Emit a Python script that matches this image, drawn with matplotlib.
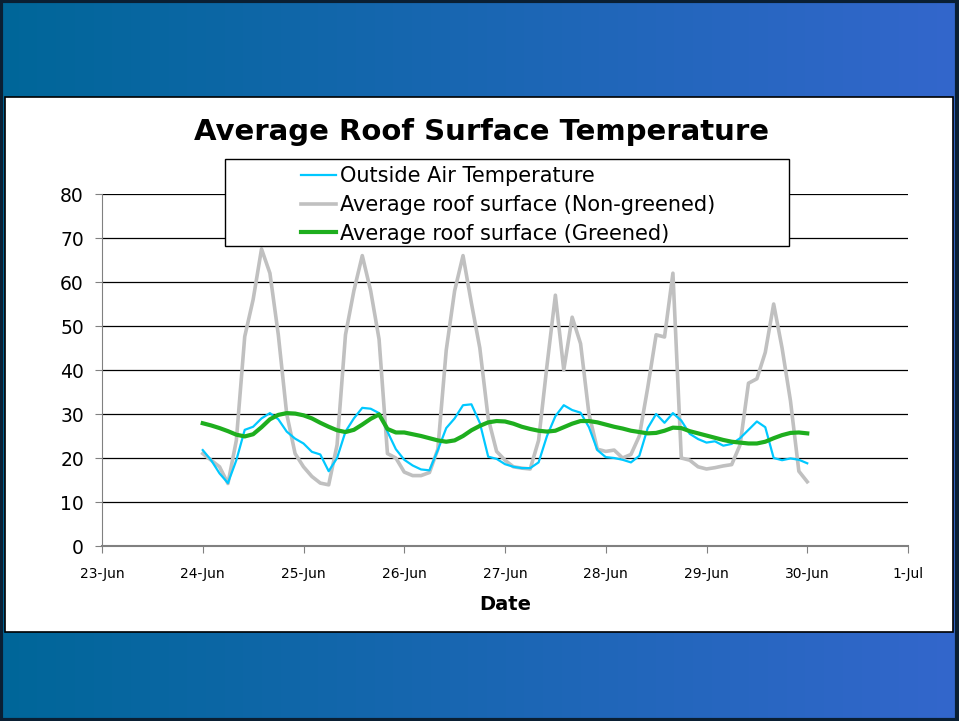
import numpy as np
import pandas as pd
import matplotlib
matplotlib.use("Agg")
import matplotlib.pyplot as plt
import matplotlib.dates as mdates
from matplotlib.patches import Rectangle
from matplotlib.lines import Line2D

# 2-hourly readings starting 24-Jun 00:00
start = "2008-06-24 00:00"
step = "2h"

air_temp = [
    21.8, 19.5, 16.5, 14.3, 19.5, 26.4, 27.1, 29.0, 30.2, 28.8, 26.0, 24.4,
    23.3, 21.4, 20.8, 17.0, 20.0, 26.0, 29.0, 31.4, 31.2, 30.2, 26.0, 22.0,
    19.6, 18.3, 17.4, 17.2, 21.8, 26.8, 29.0, 32.0, 32.2, 28.0, 20.3, 19.8,
    18.6, 18.0, 17.7, 17.7, 19.0, 25.0, 29.5, 32.0, 30.9, 30.3, 27.0, 21.8,
    20.2, 20.0, 19.6, 19.0, 20.5, 26.8, 30.0, 28.0, 30.2, 28.5, 25.5, 24.3,
    23.5, 23.8, 22.8, 23.2, 24.5, 26.4, 28.3, 27.0, 20.0, 19.5, 19.9, 19.6,
    18.8,
]

roof_non_greened = [
    21.0, 19.5, 18.0, 14.2, 24.0, 47.6, 56.0, 67.5, 62.0, 48.0, 30.0, 21.0,
    18.0, 15.8, 14.3, 13.9, 23.0, 48.0, 58.0, 66.0, 58.0, 47.0, 21.0, 20.0,
    16.8, 16.0, 16.0, 16.7, 22.0, 44.5, 58.0, 66.0, 55.2, 45.0, 29.0, 21.5,
    19.5, 18.0, 17.7, 17.5, 24.0, 41.0, 57.0, 40.0, 52.0, 46.0, 30.0, 22.0,
    21.5, 21.8, 20.0, 20.8, 25.0, 36.0, 48.0, 47.5, 62.0, 20.0, 19.5, 18.0,
    17.5, 17.8, 18.2, 18.5, 23.0, 37.0, 38.0, 44.0, 55.0, 45.0, 33.0, 17.0,
    14.6,
]

roof_greened = [
    27.9, 27.4, 26.8, 26.1, 25.3, 24.9, 25.4, 27.0, 28.8, 29.8, 30.2, 30.1,
    29.7, 29.0, 28.0, 27.1, 26.3, 25.9, 26.4, 27.6, 28.9, 29.9, 26.6, 25.8,
    25.8, 25.4, 25.0, 24.5, 24.0, 23.7, 24.0, 25.0, 26.3, 27.3, 28.1, 28.4,
    28.3, 27.8, 27.1, 26.6, 26.2, 26.0, 26.2, 27.0, 27.8, 28.4, 28.4, 28.1,
    27.6, 27.1, 26.7, 26.2, 25.9, 25.6, 25.7, 26.2, 26.9, 26.8, 26.1, 25.6,
    25.1, 24.6, 24.1, 23.7, 23.5, 23.3, 23.3, 23.7, 24.5, 25.2, 25.7, 25.8,
    25.6,
]

labels = ["Outside Air Temperature",
          "Average roof surface (Non-greened)",
          "Average roof surface (Greened)"]
colors = ["#00c8ff", "#c0c0c0", "#1eae1e"]

times = pd.date_range(start, periods=len(air_temp), freq=step)

fig = plt.figure(figsize=(9.59, 7.21), dpi=100)

# slide background gradient + white panel
bg = fig.add_axes([0, 0, 1, 1], zorder=0)
grad = np.linspace(0, 1, 256).reshape(1, -1)
cmap = matplotlib.colors.LinearSegmentedColormap.from_list("slide", ["#006699", "#3366cc"])
bg.imshow(grad, aspect="auto", cmap=cmap, extent=[0, 1, 0, 1])
bg.set_xlim(0, 1)
bg.set_ylim(0, 1)
bg.add_patch(Rectangle((0.001, 0.002), 0.997, 0.996, fill=False,
                       edgecolor="#0a1f33", linewidth=3))
bg.add_patch(Rectangle((5 / 959, 1 - 632 / 721), 948 / 959, 535 / 721,
                       facecolor="white", edgecolor="black", linewidth=1.2))
bg.set_axis_off()

ax = fig.add_axes([102 / 959, 1 - 546 / 721, 806 / 959, 352 / 721], zorder=2)
ax.set_facecolor("none")

ax.plot(times, roof_non_greened, color=colors[1], lw=2.6, zorder=3)
ax.plot(times, air_temp, color=colors[0], lw=1.6, zorder=4)
ax.plot(times, roof_greened, color=colors[2], lw=3.0, zorder=5)

ax.set_ylim(0, 80)
ax.set_yticks(range(0, 81, 10))
ax.set_xlim(pd.Timestamp("2008-06-23"), pd.Timestamp("2008-07-01"))
ax.xaxis.set_major_locator(mdates.DayLocator())
ax.xaxis.set_major_formatter(mdates.DateFormatter("%-d-%b"))

ax.grid(axis="y", color="black", lw=0.9)
ax.set_axisbelow(True)
for s in ["top", "right"]:
    ax.spines[s].set_visible(False)
ax.spines["left"].set_color("#808080")
ax.spines["bottom"].set_color("#808080")
ax.spines["bottom"].set_linewidth(1.5)
ax.tick_params(axis="y", labelsize=13.5, direction="out", length=5, color="#808080", pad=8)
ax.tick_params(axis="x", labelsize=10, direction="out", length=5, color="#808080", pad=10)

ax.set_xlabel("Date", fontsize=14, fontweight="bold", labelpad=10)
fig.text(481 / 959, 1 - 132 / 721, "Average Roof Surface Temperature",
         ha="center", va="center", fontsize=21, fontweight="bold", zorder=3)

# legend with its own frame
fig.patches.append(Rectangle((225 / 959, 1 - 246 / 721), 564 / 959, 87 / 721,
                             transform=fig.transFigure, facecolor="white",
                             edgecolor="black", linewidth=1.0, zorder=6))
handles = [Line2D([], [], color=colors[0], lw=1.6),
           Line2D([], [], color=colors[1], lw=2.6),
           Line2D([], [], color=colors[2], lw=3.0)]
leg = fig.legend(handles, labels, loc="center", bbox_to_anchor=(508 / 959, 1 - 205 / 721),
                 frameon=False, fontsize=15, handlelength=1.7, handletextpad=0.2,
                 labelspacing=0.42)
leg.set_zorder(7)

fig.savefig("out.png", dpi=100)
